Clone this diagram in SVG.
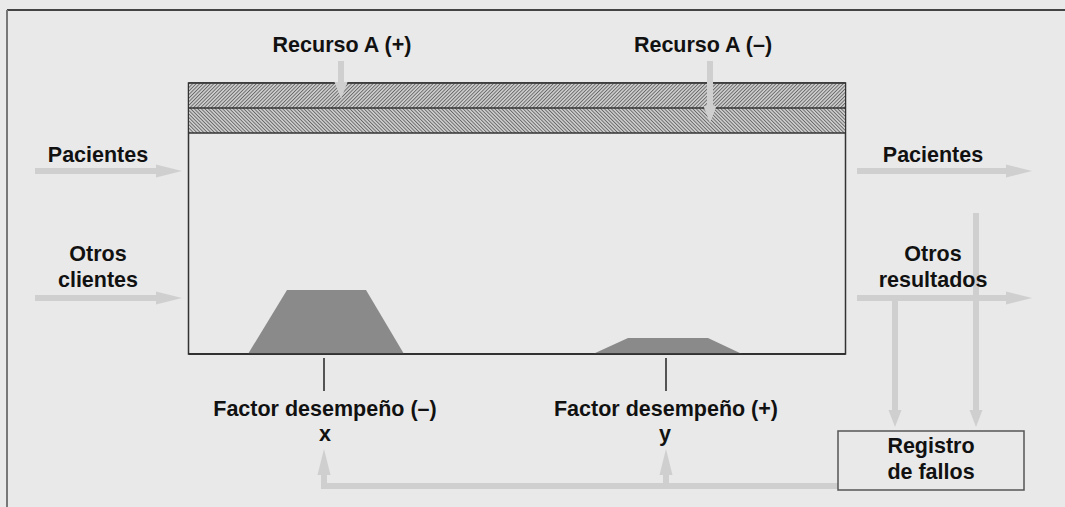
<svg xmlns="http://www.w3.org/2000/svg" width="1065" height="507" viewBox="0 0 1065 507">
<style>
text{font-family:"Liberation Sans",Arial,Helvetica,sans-serif;font-weight:bold;font-size:21.5px;fill:#111;text-anchor:middle}
.flow{stroke:#cfcfcf;stroke-width:6;fill:none}
.tick{stroke:#222;stroke-width:1.5}
.mass{fill:#8a8a8a}
</style>
<defs>
<pattern id="h1" patternUnits="userSpaceOnUse" width="2.5" height="2.5" patternTransform="rotate(45)">
<rect width="2.5" height="2.5" fill="#cfcfcf"/><rect width="0.9" height="2.5" fill="#666"/>
</pattern>
<pattern id="h2" patternUnits="userSpaceOnUse" width="2.5" height="2.5" patternTransform="rotate(-45)">
<rect width="2.5" height="2.5" fill="#cfcfcf"/><rect width="0.9" height="2.5" fill="#666"/>
</pattern>
<marker id="ah" markerUnits="userSpaceOnUse" markerWidth="26" markerHeight="14" refX="6" refY="7" orient="auto">
<path d="M0,0.5 L26,7 L0,13.5 z" fill="#cfcfcf"/>
</marker>
<marker id="av" markerUnits="userSpaceOnUse" markerWidth="17" markerHeight="14" refX="6" refY="7" orient="auto">
<path d="M0,0.5 L17,7 L0,13.5 z" fill="#cfcfcf"/>
</marker>
</defs>
<rect x="0" y="0" width="1065" height="507" fill="#e9e9e9"/>
<g id="frame">
<line x1="7" y1="10" x2="1065" y2="10" stroke="#444" stroke-width="2"/>
<line x1="7" y1="10" x2="7" y2="507" stroke="#777" stroke-width="2"/>
</g>
<g id="process">
<rect x="188.5" y="83" width="657" height="271" fill="#e9e9e9" stroke="#333" stroke-width="1.5"/>
<rect x="189" y="83.5" width="656" height="24.5" fill="url(#h1)"/>
<rect x="189" y="108" width="656" height="25" fill="url(#h2)"/>
<line x1="188.5" y1="83" x2="845.5" y2="83" stroke="#333" stroke-width="1.5"/>
<line x1="188.5" y1="108" x2="845.5" y2="108" stroke="#333" stroke-width="1.5"/>
<line x1="188.5" y1="133" x2="845.5" y2="133" stroke="#333" stroke-width="1.5"/>
<polygon class="mass" points="248,354 287,290 366,290 404,354"/>
<polygon class="mass" points="593,354 628,338 708,338 742,354"/>
<line x1="188.5" y1="354" x2="845.5" y2="354" stroke="#222" stroke-width="1.5"/>
</g>
<g id="connectors">
<line class="flow" x1="341" y1="61" x2="341" y2="88" marker-end="url(#av)"/>
<line class="flow" x1="710" y1="61" x2="710" y2="112" marker-end="url(#av)"/>
<line class="flow" x1="35" y1="171" x2="162" y2="171" marker-end="url(#ah)"/>
<line class="flow" x1="35" y1="298" x2="162" y2="298" marker-end="url(#ah)"/>
<line class="flow" x1="857" y1="171" x2="1012" y2="171" marker-end="url(#ah)"/>
<line class="flow" x1="857" y1="298" x2="1012" y2="298" marker-end="url(#ah)"/>
<line class="flow" x1="976" y1="213" x2="976" y2="416" marker-end="url(#av)"/>
<line class="flow" x1="895" y1="298" x2="895" y2="416" marker-end="url(#av)"/>
<polyline class="flow" points="838,486 324,486 324,469" marker-end="url(#ah)"/>
<line class="flow" x1="666" y1="486" x2="666" y2="469" marker-end="url(#ah)"/>
<line class="tick" x1="324" y1="358" x2="324" y2="391"/>
<line class="tick" x1="666" y1="358" x2="666" y2="391"/>
</g>
<g id="recurso-plus"><text x="342" y="52">Recurso A (+)</text></g>
<g id="recurso-minus"><text x="703" y="52">Recurso A (–)</text></g>
<g id="in-pacientes"><text x="98" y="162">Pacientes</text></g>
<g id="in-otros"><text x="98" y="261">Otros</text><text x="98" y="287">clientes</text></g>
<g id="out-pacientes"><text x="933" y="162">Pacientes</text></g>
<g id="out-otros"><text x="933" y="261">Otros</text><text x="933" y="287">resultados</text></g>
<g id="factor-minus"><text x="325" y="416">Factor desempeño (–)</text><text x="325" y="441">x</text></g>
<g id="factor-plus"><text x="666" y="416">Factor desempeño (+)</text><text x="665" y="441">y</text></g>
<g id="registro">
<rect x="838" y="431" width="186" height="59" fill="#e9e9e9" stroke="#555" stroke-width="1.5"/>
<text x="931" y="453">Registro</text>
<text x="931" y="479">de fallos</text>
</g>
</svg>
